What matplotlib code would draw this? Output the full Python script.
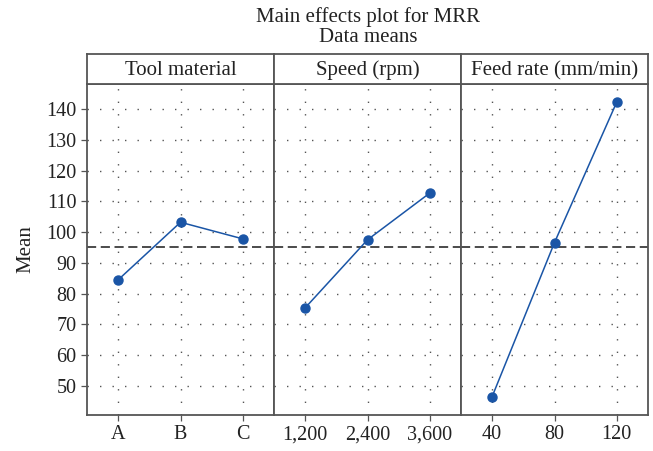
import matplotlib
matplotlib.use("Agg")
import matplotlib.pyplot as plt

# factor names and level labels
factors = ["Tool material", "Speed (rpm)", "Feed rate (mm/min)"]
tool_levels = ["A", "B", "C"]
speed_levels = ["1,200", "2,400", "3,600"]
feed_levels = ["40", "80", "120"]

# mean MRR at each level
tool_means = [84.5, 103.2, 97.8]
speed_means = [75.4, 97.5, 112.7]
feed_means = [46.6, 96.6, 142.3]

overall_mean = 95.2
y_ticks = [50, 60, 70, 80, 90, 100, 110, 120, 130, 140]

plt.rcParams['font.family'] = ['Liberation Serif', 'DejaVu Serif']
text_col = "#222222"
frame_col = "#555555"
line_col = "#1a55a6"

fig = plt.figure(figsize=(6.53, 4.51), dpi=100)

left = 87 / 653
width = 187 / 653
bottom = 36 / 451
height = 331 / 451
strip_h = 30 / 451

levels_all = [tool_levels, speed_levels, feed_levels]
means_all = [tool_means, speed_means, feed_means]

for i in range(3):
    ax = fig.add_axes([left + i * width, bottom, width, height])
    xs = list(range(len(levels_all[i])))
    ax.plot(xs, means_all[i], color=line_col, lw=1.1, marker="o", ms=6.5, zorder=3)
    ax.axhline(overall_mean, color="#1a1a1a", lw=1.1, ls=(0, (6, 3)), zorder=2)
    ax.set_xlim(-0.5, 2.5)
    ax.set_ylim(40.6, 148.1)
    ax.set_xticks(xs)
    ax.set_xticklabels(levels_all[i], fontsize=14.5, color=text_col)
    ax.set_yticks(y_ticks)
    ax.grid(True, color="#555555", ls=(0, (1, 8)), lw=1.0)
    ax.tick_params(colors=frame_col, labelcolor=text_col, length=4, width=0.9)
    for s in ax.spines.values():
        s.set_color(frame_col)
        s.set_linewidth(1.3)
    if i == 0:
        ax.set_yticklabels([str(v) for v in y_ticks], fontsize=14.5)
        ax.set_ylabel("Mean", fontsize=15, color=text_col, labelpad=8)
    else:
        ax.tick_params(axis="y", left=False, labelleft=False)

    # strip header above each panel
    sax = fig.add_axes([left + i * width, bottom + height, width, strip_h])
    sax.set_xticks([])
    sax.set_yticks([])
    for s in sax.spines.values():
        s.set_color(frame_col)
        s.set_linewidth(1.3)
    sax.text(0.5, 0.45, factors[i], ha="center", va="center", fontsize=15,
             color=text_col, transform=sax.transAxes)

fig.text(368 / 653, 1 - 17 / 451, "Main effects plot for MRR", ha="center", va="center",
         fontsize=15, color=text_col)
fig.text(368 / 653, 1 - 38 / 451, "Data means", ha="center", va="center",
         fontsize=15, color=text_col)

fig.savefig("out.png", dpi=100)
